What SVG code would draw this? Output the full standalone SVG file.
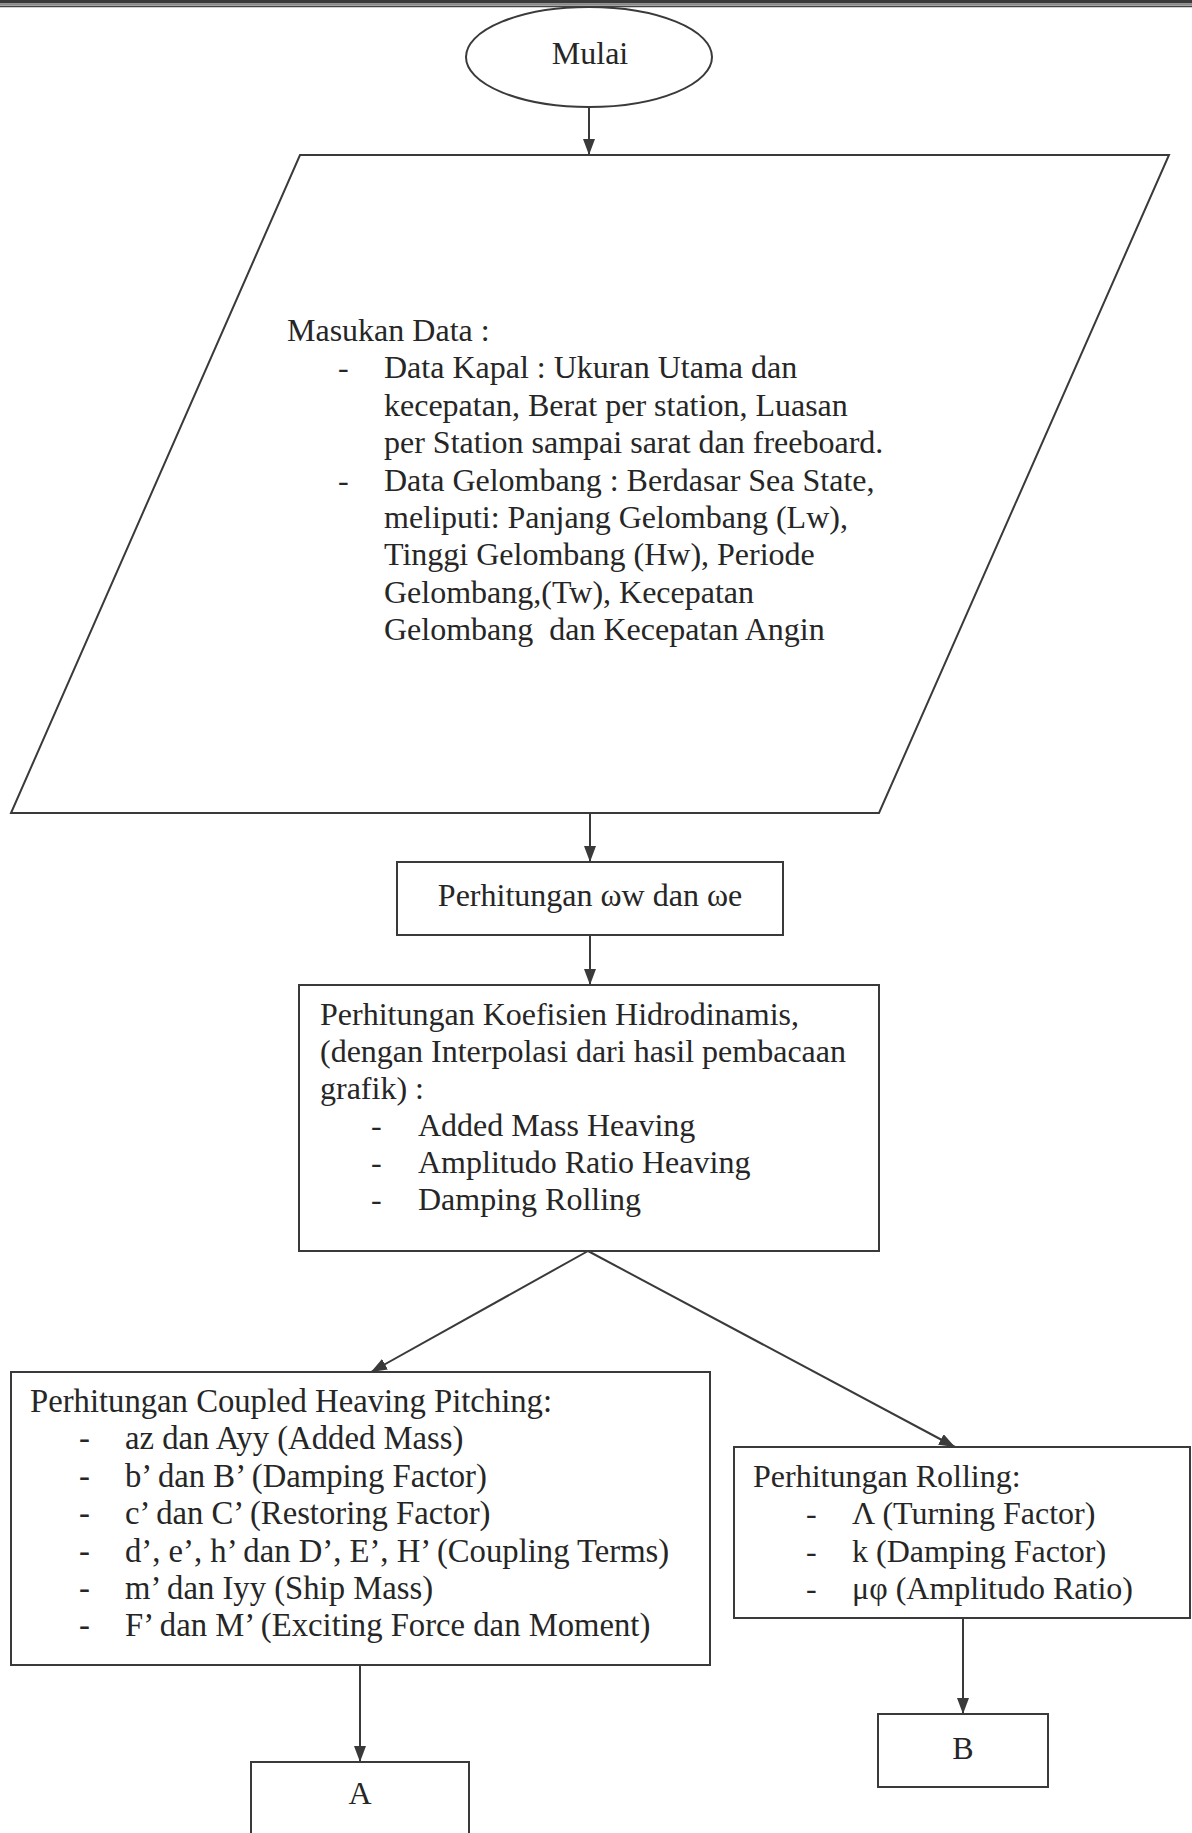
<svg xmlns="http://www.w3.org/2000/svg" width="1192" height="1833" viewBox="0 0 1192 1833">
<style>
.t{font-family:"Liberation Serif","Times New Roman",serif;font-size:32px;fill:#262626}
.b{font-size:32.7px}
.c{text-anchor:middle}
.s{fill:#fff;stroke:#3a3a3a;stroke-width:2}
.k{stroke:#3a3a3a;stroke-width:2;fill:none}
</style>
<defs>
<marker id="ah" viewBox="0 0 16 12" markerWidth="16" markerHeight="12" refX="16" refY="6" orient="auto" markerUnits="userSpaceOnUse">
<path d="M0,0 L16,6 L0,12 z" fill="#3a3a3a"/>
</marker>
</defs>
<rect width="1192" height="1833" fill="#fff"/>
<g id="topband">
<rect x="0" y="0" width="1192" height="3.5" fill="#3a3a3a"/>
<rect x="0" y="3.5" width="1192" height="2" fill="#8a8a8a"/>
<line x1="0" y1="6.5" x2="1192" y2="6.5" stroke="#444" stroke-width="1.5"/>
</g>
<g id="connectors">
<line class="k" x1="589" y1="107" x2="589" y2="155" marker-end="url(#ah)"/>
<line class="k" x1="590" y1="813" x2="590" y2="862" marker-end="url(#ah)"/>
<line class="k" x1="590" y1="935" x2="590" y2="985" marker-end="url(#ah)"/>
<line class="k" x1="588" y1="1251" x2="371" y2="1372" marker-end="url(#ah)"/>
<line class="k" x1="588" y1="1251" x2="955" y2="1447" marker-end="url(#ah)"/>
<line class="k" x1="360" y1="1665" x2="360" y2="1762" marker-end="url(#ah)"/>
<line class="k" x1="963" y1="1618" x2="963" y2="1714" marker-end="url(#ah)"/>
</g>
<g id="mulai">
<ellipse class="s" cx="589" cy="57" rx="123" ry="50"/>
<text class="t c" x="590" y="64">Mulai</text>
</g>
<g id="masukan">
<polygon class="s" points="300,155 1169,155 879,813 11,813"/>
<text class="t" x="287" y="341">Masukan Data :</text>
<text class="t" x="338" y="378.4">-</text>
<text class="t" x="384" y="378.4">Data Kapal : Ukuran Utama dan</text>
<text class="t" x="384" y="415.8">kecepatan, Berat per station, Luasan</text>
<text class="t" x="384" y="453.2">per Station sampai sarat dan freeboard.</text>
<text class="t" x="338" y="490.6">-</text>
<text class="t" x="384" y="490.6">Data Gelombang : Berdasar Sea State,</text>
<text class="t" x="384" y="528">meliputi: Panjang Gelombang (Lw),</text>
<text class="t" x="384" y="565.4">Tinggi Gelombang (Hw), Periode</text>
<text class="t" x="384" y="602.8">Gelombang,(Tw), Kecepatan</text>
<text class="t" x="384" y="640.2" xml:space="preserve">Gelombang  dan Kecepatan Angin</text>
</g>
<g id="omega">
<rect class="s" x="397" y="862" width="386" height="73"/>
<text class="t c" x="590" y="906">Perhitungan ωw dan ωe</text>
</g>
<g id="koefisien">
<rect class="s" x="299" y="985" width="580" height="266"/>
<text class="t" x="320" y="1025">Perhitungan Koefisien Hidrodinamis,</text>
<text class="t" x="320" y="1062">(dengan Interpolasi dari hasil pembacaan</text>
<text class="t" x="320" y="1099">grafik) :</text>
<text class="t" x="371" y="1136">-</text>
<text class="t" x="418" y="1136">Added Mass Heaving</text>
<text class="t" x="371" y="1173">-</text>
<text class="t" x="418" y="1173">Amplitudo Ratio Heaving</text>
<text class="t" x="371" y="1210">-</text>
<text class="t" x="418" y="1210">Damping Rolling</text>
</g>
<g id="coupled">
<rect class="s" x="11" y="1372" width="699" height="293"/>
<text class="t b" x="30" y="1412">Perhitungan Coupled Heaving Pitching:</text>
<text class="t b" x="79" y="1449.4">-</text>
<text class="t b" x="125" y="1449.4">az dan Ayy (Added Mass)</text>
<text class="t b" x="79" y="1486.8">-</text>
<text class="t b" x="125" y="1486.8">b’ dan B’ (Damping Factor)</text>
<text class="t b" x="79" y="1524.2">-</text>
<text class="t b" x="125" y="1524.2">c’ dan C’ (Restoring Factor)</text>
<text class="t b" x="79" y="1561.6">-</text>
<text class="t b" x="125" y="1561.6">d’, e’, h’ dan D’, E’, H’ (Coupling Terms)</text>
<text class="t b" x="79" y="1599">-</text>
<text class="t b" x="125" y="1599">m’ dan Iyy (Ship Mass)</text>
<text class="t b" x="79" y="1636.4">-</text>
<text class="t b" x="125" y="1636.4">F’ dan M’ (Exciting Force dan Moment)</text>
</g>
<g id="rolling">
<rect class="s" x="734" y="1447" width="456" height="171"/>
<text class="t" x="753" y="1486.8">Perhitungan Rolling:</text>
<text class="t" x="806" y="1524.2">-</text>
<text class="t" x="852" y="1524.2">Λ (Turning Factor)</text>
<text class="t" x="806" y="1561.6">-</text>
<text class="t" x="852" y="1561.6">k (Damping Factor)</text>
<text class="t" x="806" y="1599">-</text>
<text class="t" x="852" y="1599">μφ (Amplitudo Ratio)</text>
</g>
<g id="nodeA">
<rect class="s" x="251" y="1762" width="218" height="90"/>
<text class="t c" x="360" y="1804">A</text>
</g>
<g id="nodeB">
<rect class="s" x="878" y="1714" width="170" height="73"/>
<text class="t c" x="963" y="1759">B</text>
</g>
</svg>
